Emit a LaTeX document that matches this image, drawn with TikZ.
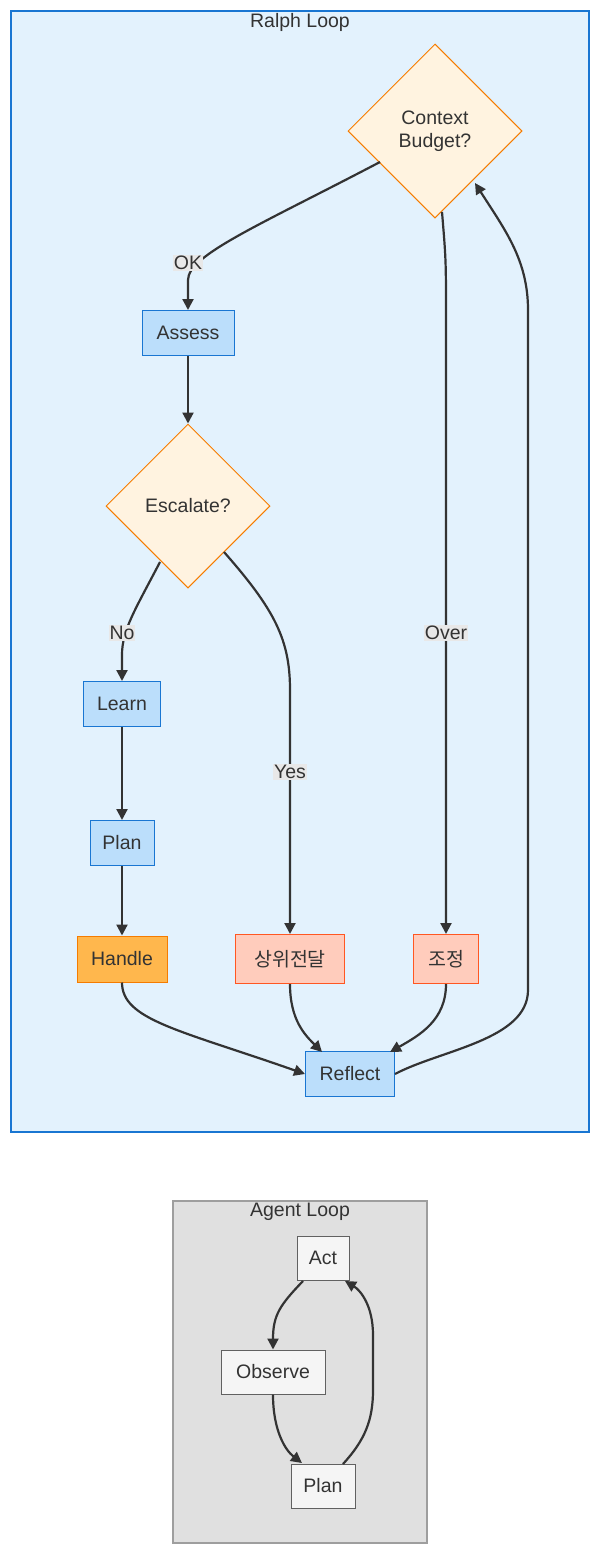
\documentclass[tikz,border=0pt]{standalone}
\usepackage{fontspec}
\setmainfont{Liberation Sans}
\newfontfamily\kr{Noto Sans CJK KR}
\usetikzlibrary{shapes.geometric,arrows.meta}
\definecolor{bgA}{HTML}{E3F2FD}\definecolor{stA}{HTML}{1976D2}
\definecolor{dfill}{HTML}{FFF3E0}\definecolor{dstr}{HTML}{F57C00}
\definecolor{bfill}{HTML}{BBDEFB}\definecolor{hfill}{HTML}{FFB74D}
\definecolor{efill}{HTML}{FFCCBC}\definecolor{estr}{HTML}{FF5722}
\definecolor{bgB}{HTML}{E0E0E0}\definecolor{stB}{HTML}{9E9E9E}
\definecolor{gfill}{HTML}{F5F5F5}\definecolor{gstr}{HTML}{616161}
\definecolor{ink}{HTML}{333333}\definecolor{lbl}{HTML}{E8E8E8}
\begin{document}
\begin{tikzpicture}[x=1pt,y=-1pt,
 every node/.style={font=\fontsize{19.5}{23}\selectfont,text=ink},
 box/.style={draw=stA,fill=bfill,line width=1pt,minimum height=45pt,inner xsep=0pt},
 dia/.style={diamond,draw=dstr,fill=dfill,line width=1pt,align=center,inner sep=0pt},
 gbox/.style={draw=gstr,fill=gfill,line width=1pt,minimum height=44pt,inner xsep=0pt},
 ebox/.style={draw=estr,fill=efill,line width=1pt,minimum height=49pt,inner xsep=0pt},
 arr/.style={draw=ink,line width=2.2pt,-{Triangle[length=11pt,width=11pt]}},
 lab/.style={fill=lbl,inner sep=1pt}]
\useasboundingbox (0,0) rectangle (600,1556);
\draw[fill=bgA,draw=stA,line width=2.5pt] (11,11) rectangle (589,1132);
\node (t1) at (300,22) {Ralph Loop};
\draw[fill=bgB,draw=stB,line width=2.5pt] (173,1201) rectangle (427,1543);
\node (t2) at (300,1212) {Agent Loop};
\node[dia,minimum width=174pt,minimum height=174pt] (ctx) at (435,131) {Context\\Budget?};
\node[box,minimum width=92pt] (assess) at (188,333) {Assess};
\node[dia,minimum width=164pt,minimum height=164pt] (esc) at (188,506) {Escalate?};
\node[box,minimum width=77pt] (learn) at (122,704) {Learn};
\node[box,minimum width=64pt] (plan) at (122,843) {Plan};
\node[box,fill=hfill,draw=dstr,minimum height=46pt,minimum width=90pt] (handle) at (122,959) {Handle};
\node[ebox,minimum width=109pt] (esc2) at (290,959) {\kr 상위전달};
\node[ebox,minimum width=65pt] (adj) at (446,959) {\kr 조정};
\node[box,minimum width=89pt] (refl) at (350,1074) {Reflect};
\node[gbox,minimum width=52pt] (act) at (323,1258) {Act};
\node[gbox,minimum width=104pt] (obs) at (273,1372) {Observe};
\node[gbox,minimum width=64pt] (plan2) at (323,1486) {Plan};
% edges
\draw[arr] (380,162) .. controls (260,225) and (188,255) .. (188,280) -- (assess.north);
\node[lab] (lok) at (188,263) {OK};
\draw[arr] (442,212) .. controls (446,260) .. (446,320) -- (adj.north);
\node[lab] (lover) at (446,633) {Over};
\draw[arr] (assess.south) -- (esc.north);
\draw[arr] (160,562) .. controls (135,610) and (122,630) .. (122,655) -- (learn.north);
\node[lab] (lno) at (122,633) {No};
\draw[arr] (224,552) .. controls (275,610) and (290,640) .. (290,690) -- (esc2.north);
\node[lab] (lyes) at (290,772) {Yes};
\draw[arr] (learn.south) -- (plan.north);
\draw[arr] (plan.south) -- (handle.north);
\draw[arr] (handle.south) .. controls (122,1020) and (180,1030) .. (refl.west);
\draw[arr] (esc2.south) .. controls (290,1020) and (305,1035) .. (322,1052);
\draw[arr] (adj.south) .. controls (446,1020) and (420,1035) .. (390,1052);
\draw[arr] (refl.east) .. controls (440,1050) and (528,1040) .. (528,990) -- (528,310) .. controls (528,260) and (505,230) .. (475,183);
\draw[arr] (303,1281) .. controls (280,1305) and (273,1315) .. (obs.north);
\draw[arr] (obs.south) .. controls (273,1430) and (285,1450) .. (302,1463);
\draw[arr] (343,1464) .. controls (365,1440) and (373,1420) .. (373,1390) -- (373,1335) .. controls (373,1305) and (360,1290) .. (345,1281);
\end{tikzpicture}
\end{document}
